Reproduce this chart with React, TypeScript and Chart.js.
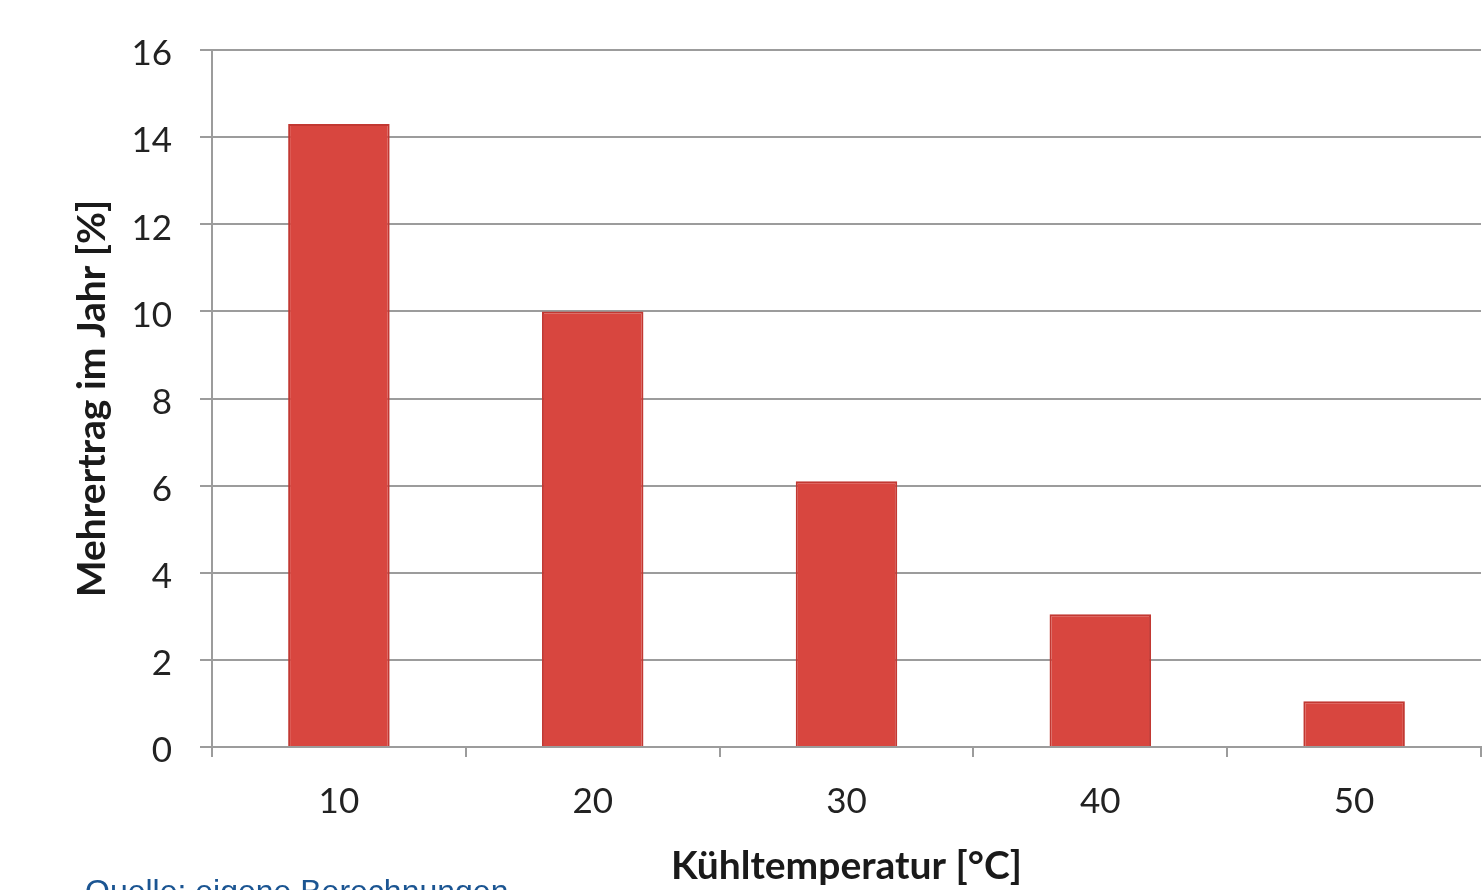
import React, { useEffect, useRef } from "react";
import { Chart, registerables } from "chart.js";

Chart.register(...registerables);

// Cooling temperature categories and the extra annual yield for each
const temperatures = ["10", "20", "30", "40", "50"];
const extraYield = [14.3, 10.0, 6.1, 3.05, 1.05];
const yTickValues = [0, 2, 4, 6, 8, 10, 12, 14, 16];

const xTitle = "Kühltemperatur [°C]";
const yTitle = "Mehrertrag im Jahr [%]";
const sourceNote = "Quelle: eigene Berechnungen";

const FONT = "Lato, 'Open Sans', sans-serif";

// Source note below the plot, partly cut by the canvas edge
const sourcePlugin = {
  id: "sourceNote",
  afterDraw(chart: Chart) {
    const ctx = chart.ctx;
    ctx.save();
    ctx.font = "32px 'Liberation Sans', Arial, sans-serif";
    ctx.fillStyle = "#1b5592";
    ctx.textBaseline = "top";
    ctx.textAlign = "left";
    ctx.fillText(sourceNote, 85, 877);
    ctx.restore();
  },
};

export default function App() {
  const canvasRef = useRef<HTMLCanvasElement | null>(null);

  useEffect(() => {
    if (!canvasRef.current) return;
    const chart = new Chart(canvasRef.current, {
      type: "bar",
      data: {
        labels: temperatures,
        datasets: [
          {
            data: extraYield,
            backgroundColor: "#d8463f",
            borderColor: "#c23832",
            borderWidth: 2,
            barPercentage: 0.4,
            categoryPercentage: 1,
          },
        ],
      },
      plugins: [sourcePlugin],
      options: {
        animation: false,
        responsive: false,
        maintainAspectRatio: false,
        layout: { padding: { top: 50, right: 2, bottom: 0, left: 0 } },
        plugins: {
          legend: { display: false },
          tooltip: { enabled: false },
        },
        scales: {
          x: {
            offset: true,
            border: { display: true, color: "#9c9c9c", width: 2 },
            grid: {
              display: true,
              offset: true,
              drawOnChartArea: false,
              drawTicks: true,
              tickLength: 10,
              color: "#9c9c9c",
              lineWidth: 2,
            },
            ticks: {
              color: "#222",
              padding: 24,
              font: { family: FONT, size: 35 },
            },
            title: {
              display: true,
              text: xTitle,
              color: "#1a1a1a",
              font: { family: FONT, size: 39, weight: "bold" },
              padding: { top: 0, bottom: 0 },
            },
            afterFit(scale: any) {
              scale.height = 143;
            },
          },
          y: {
            min: 0,
            max: 16,
            afterBuildTicks(scale: any) {
              scale.ticks = yTickValues.map((v) => ({ value: v }));
            },
            border: { display: true, color: "#9c9c9c", width: 2 },
            grid: {
              color: "#9c9c9c",
              lineWidth: 2,
              drawTicks: true,
              tickLength: 12,
            },
            ticks: {
              color: "#222",
              padding: 28,
              labelOffset: 4,
              font: { family: FONT, size: 35 },
            },
            title: {
              display: true,
              text: yTitle,
              color: "#1a1a1a",
              font: { family: FONT, size: 39, weight: "bold" },
              padding: { top: 69, bottom: 0 },
            },
            afterFit(scale: any) {
              scale.width = 212;
            },
          },
        },
      },
    });
    return () => chart.destroy();
  }, []);

  return (
    <div style={{ position: "fixed", left: 0, top: 0, width: 1483, height: 890, background: "#fff" }}>
      <canvas ref={canvasRef} width={1483} height={890} />
    </div>
  );
}
